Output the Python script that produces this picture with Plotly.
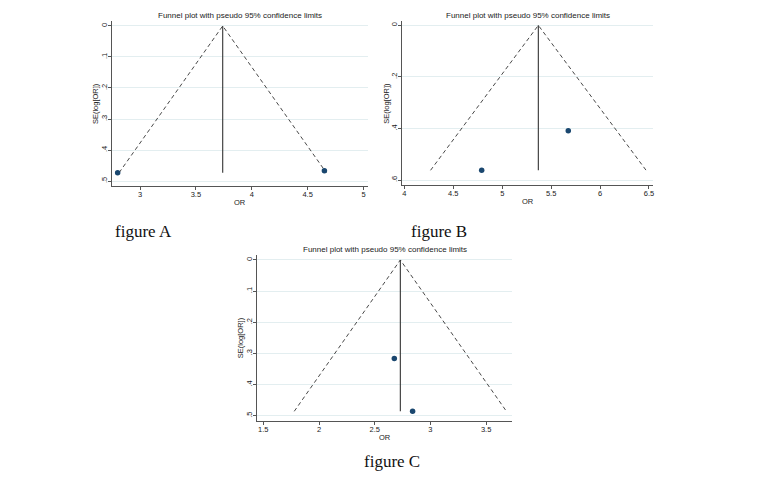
import plotly.graph_objects as go

# ---- data ----
# figure A
a_or = [2.80, 4.65]
a_se = [0.473, 0.467]
a_theta = 3.74
a_semax = 0.473
# figure B
b_or = [4.79, 5.675]
b_se = [0.562, 0.409]
b_theta = 5.369
b_semax = 0.562
# figure C
c_or = [2.676, 2.84]
c_se = [0.316, 0.486]
c_theta = 2.73
c_semax = 0.486

a_xticks = [3, 3.5, 4, 4.5, 5]
a_yticks = [0, 0.1, 0.2, 0.3, 0.4, 0.5]
b_xticks = [4, 4.5, 5, 5.5, 6, 6.5]
b_yticks = [0, 0.2, 0.4, 0.6]
c_xticks = [1.5, 2, 2.5, 3, 3.5]
c_yticks = [0, 0.1, 0.2, 0.3, 0.4, 0.5]

panel_labels = ["figure A", "figure B", "figure C"]
title_text = "Funnel plot with pseudo 95% confidence limits"
x_title = "OR"
y_title = "SE(log[OR])"


def fmt_x(v):
    return ("%g" % v)


def fmt_y(v):
    s = "%g" % v
    return s[1:] if s.startswith("0.") else s


panels = [
    dict(orv=a_or, se=a_se, theta=a_theta, semax=a_semax, xt=a_xticks, yt=a_yticks,
         xdom=[0.1476, 0.4861], ydom=[0.6147, 0.9565], xr=[2.747, 5.04], yr=[0.515, -0.016]),
    dict(orv=b_or, se=b_se, theta=b_theta, semax=b_semax, xt=b_xticks, yt=b_yticks,
         xdom=[0.5307, 0.8630], ydom=[0.6162, 0.9560], xr=[3.973, 6.544], yr=[0.619, -0.016]),
    dict(orv=c_or, se=c_se, theta=c_theta, semax=c_semax, xt=c_xticks, yt=c_yticks,
         xdom=[0.3399, 0.6760], ydom=[0.1266, 0.4710], xr=[1.446, 3.73], yr=[0.517, -0.016]),
]

W, H = 757, 482
fig = go.Figure()
FONT = "Liberation Sans, Arial, sans-serif"
layout = dict(
    width=W, height=H, margin=dict(l=0, r=0, t=0, b=0),
    paper_bgcolor="white", plot_bgcolor="white", showlegend=False,
    font=dict(family=FONT, size=8, color="#222"),
)
annotations = []

for i, p in enumerate(panels):
    n = "" if i == 0 else str(i + 1)
    xa, ya = "x" + n, "y" + n
    lo = p["theta"] - 1.96 * p["semax"]
    hi = p["theta"] + 1.96 * p["semax"]
    # funnel dashed lines
    fig.add_trace(go.Scatter(x=[lo, p["theta"], hi], y=[p["semax"], 0, p["semax"]],
                             mode="lines", line=dict(color="#333", width=0.9, dash="4px,3px"),
                             xaxis=xa, yaxis=ya, hoverinfo="skip"))
    # vertical pooled line
    fig.add_trace(go.Scatter(x=[p["theta"], p["theta"]], y=[0, p["semax"]],
                             mode="lines", line=dict(color="#333", width=1.1),
                             xaxis=xa, yaxis=ya, hoverinfo="skip"))
    # studies
    fig.add_trace(go.Scatter(x=p["orv"], y=p["se"], mode="markers",
                             marker=dict(color="#1a476f", size=5.5),
                             xaxis=xa, yaxis=ya))
    layout["xaxis" + n] = dict(
        domain=p["xdom"], range=p["xr"], anchor=ya,
        tickvals=p["xt"], ticktext=[fmt_x(v) for v in p["xt"]],
        showgrid=False, zeroline=False, showline=True, linecolor="#555", linewidth=1,
        ticks="outside", ticklen=3, tickcolor="#555", tickfont=dict(size=7.5, family=FONT),
        ticklabelstandoff=-2,
    )
    layout["yaxis" + n] = dict(
        domain=p["ydom"], range=p["yr"], anchor=xa,
        tickvals=p["yt"], ticktext=[fmt_y(v) for v in p["yt"]], tickangle=-90,
        showgrid=True, gridcolor="#e3eef0", gridwidth=1, zeroline=False,
        showline=True, linecolor="#555", linewidth=1,
        ticks="outside", ticklen=3, tickcolor="#555", tickfont=dict(size=7.5, family=FONT),
        ticklabelstandoff=-2,
    )
    xc = (p["xdom"][0] + p["xdom"][1]) / 2
    # panel title
    annotations.append(dict(
        text=title_text, xref="paper", yref="paper",
        x=xc, y=p["ydom"][1] + 5.5 / H,
        xanchor="center", yanchor="middle", showarrow=False,
        font=dict(size=8, family=FONT, color="#222"),
    ))
    # x axis title
    annotations.append(dict(
        text=x_title, xref="paper", yref="paper",
        x=xc, y=p["ydom"][0] - 16.5 / H,
        xanchor="center", yanchor="middle", showarrow=False,
        font=dict(size=7.5, family=FONT, color="#222"),
    ))
    # y axis title
    annotations.append(dict(
        text=y_title, xref="paper", yref="paper", textangle=-90,
        x=p["xdom"][0] - 16 / W, y=(p["ydom"][0] + p["ydom"][1]) / 2,
        xanchor="center", yanchor="middle", showarrow=False,
        font=dict(size=7.5, family=FONT, color="#222"),
    ))

label_pos = [(113 / W, 1 - 231 / H), (409 / W, 1 - 231 / H), (362 / W, 1 - 461 / H)]
for lab, (x, y) in zip(panel_labels, label_pos):
    annotations.append(dict(text=lab, xref="paper", yref="paper", x=x, y=y,
                            xanchor="left", yanchor="middle", showarrow=False,
                            font=dict(size=17, family="Liberation Serif, Times New Roman, serif",
                                      color="#111")))

layout["annotations"] = annotations
fig.update_layout(**layout)
fig.write_html("out.html")
